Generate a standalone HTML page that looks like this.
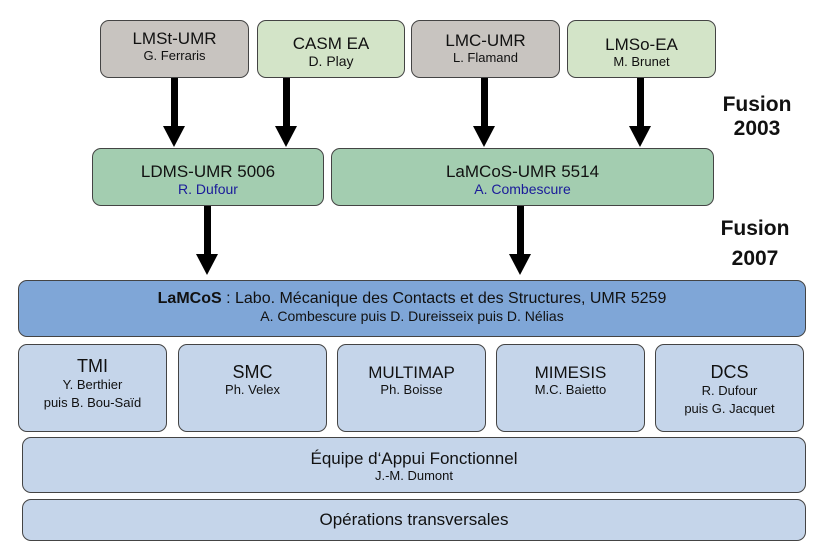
<!DOCTYPE html>
<html><head><meta charset="utf-8"><style>
body{margin:0;width:824px;height:553px;background:#fff;position:relative;overflow:hidden;font-family:"Liberation Sans",Arial,sans-serif;color:#111}
.b{position:absolute;box-sizing:border-box;border:1.5px solid #444;border-radius:9px;text-align:center}
.g{background:#c8c4c0}.lg{background:#d3e4c8}.gr{background:#a3cdb0}.bl{background:#7fa6d7}.lb{background:#c5d5ea}
.t{font-size:17px;line-height:19px}.s{font-size:13px;line-height:16px}
.f{position:absolute;font-weight:bold;font-size:21px;text-align:center;width:90px}
</style></head><body>
<svg style="position:absolute;left:0;top:0" width="824" height="553">
<g fill="#000">
<rect x="171" y="77" width="7" height="50"/><polygon points="163,126 185,126 174,147"/>
<rect x="283" y="77" width="7" height="50"/><polygon points="275,126 297,126 286,147"/>
<rect x="481" y="77" width="7" height="50"/><polygon points="473,126 495,126 484,147"/>
<rect x="637" y="77" width="7" height="50"/><polygon points="629,126 651,126 640,147"/>
<rect x="204" y="205" width="7" height="50"/><polygon points="196,254 218,254 207,275"/>
<rect x="517" y="205" width="7" height="50"/><polygon points="509,254 531,254 520,275"/>
</g></svg>
<div class="b g" style="left:100px;top:20px;width:149px;height:58px;padding-top:8px"><div class="t">LMSt-UMR</div><div class="s">G. Ferraris</div></div>
<div class="b lg" style="left:257px;top:20px;width:148px;height:58px;padding-top:13px"><div class="t">CASM EA</div><div class="s" style="font-size:14px">D. Play</div></div>
<div class="b g" style="left:411px;top:20px;width:149px;height:58px;padding-top:10px"><div class="t">LMC-UMR</div><div class="s">L. Flamand</div></div>
<div class="b lg" style="left:567px;top:20px;width:149px;height:58px;padding-top:14px"><div class="t">LMSo-EA</div><div class="s">M. Brunet</div></div>
<div class="f" style="left:712px;top:93px;line-height:24px">Fusion<br>2003</div>
<div class="f" style="left:710px;top:214px;line-height:30px">Fusion<br>2007</div>
<div class="b gr" style="left:92px;top:148px;width:232px;height:58px;padding-top:13px"><div class="t">LDMS-UMR 5006</div><div class="s" style="color:#1a1a9a;font-size:14px">R. Dufour</div></div>
<div class="b gr" style="left:331px;top:148px;width:383px;height:58px;padding-top:13px"><div class="t">LaMCoS-UMR 5514</div><div class="s" style="color:#1a1a9a;font-size:14px">A. Combescure</div></div>
<div class="b bl" style="left:18px;top:280px;width:788px;height:57px;padding-top:8px"><div class="t" style="font-size:16px"><b>LaMCoS</b> : Labo. Mécanique des Contacts et des Structures, UMR 5259</div><div class="s" style="font-size:14px">A. Combescure puis D. Dureisseix puis D. Nélias</div></div>
<div class="b lb" style="left:18px;top:344px;width:149px;height:88px;padding-top:12px"><div class="t" style="font-size:18px">TMI</div><div class="s" style="line-height:18px">Y. Berthier<br>puis B. Bou-Saïd</div></div>
<div class="b lb" style="left:178px;top:344px;width:149px;height:88px;padding-top:18px"><div class="t" style="font-size:18px">SMC</div><div class="s">Ph. Velex</div></div>
<div class="b lb" style="left:337px;top:344px;width:149px;height:88px;padding-top:18px"><div class="t">MULTIMAP</div><div class="s">Ph. Boisse</div></div>
<div class="b lb" style="left:496px;top:344px;width:149px;height:88px;padding-top:18px"><div class="t">MIMESIS</div><div class="s">M.C. Baietto</div></div>
<div class="b lb" style="left:655px;top:344px;width:149px;height:88px;padding-top:18px"><div class="t" style="font-size:18px">DCS</div><div class="s" style="line-height:18px">R. Dufour<br>puis G. Jacquet</div></div>
<div class="b lb" style="left:22px;top:437px;width:784px;height:56px;padding-top:11px"><div class="t">Équipe d‘Appui Fonctionnel</div><div class="s">J.-M. Dumont</div></div>
<div class="b lb" style="left:22px;top:499px;width:784px;height:42px;padding-top:10px"><div class="t">Opérations transversales</div></div>
</body></html>
